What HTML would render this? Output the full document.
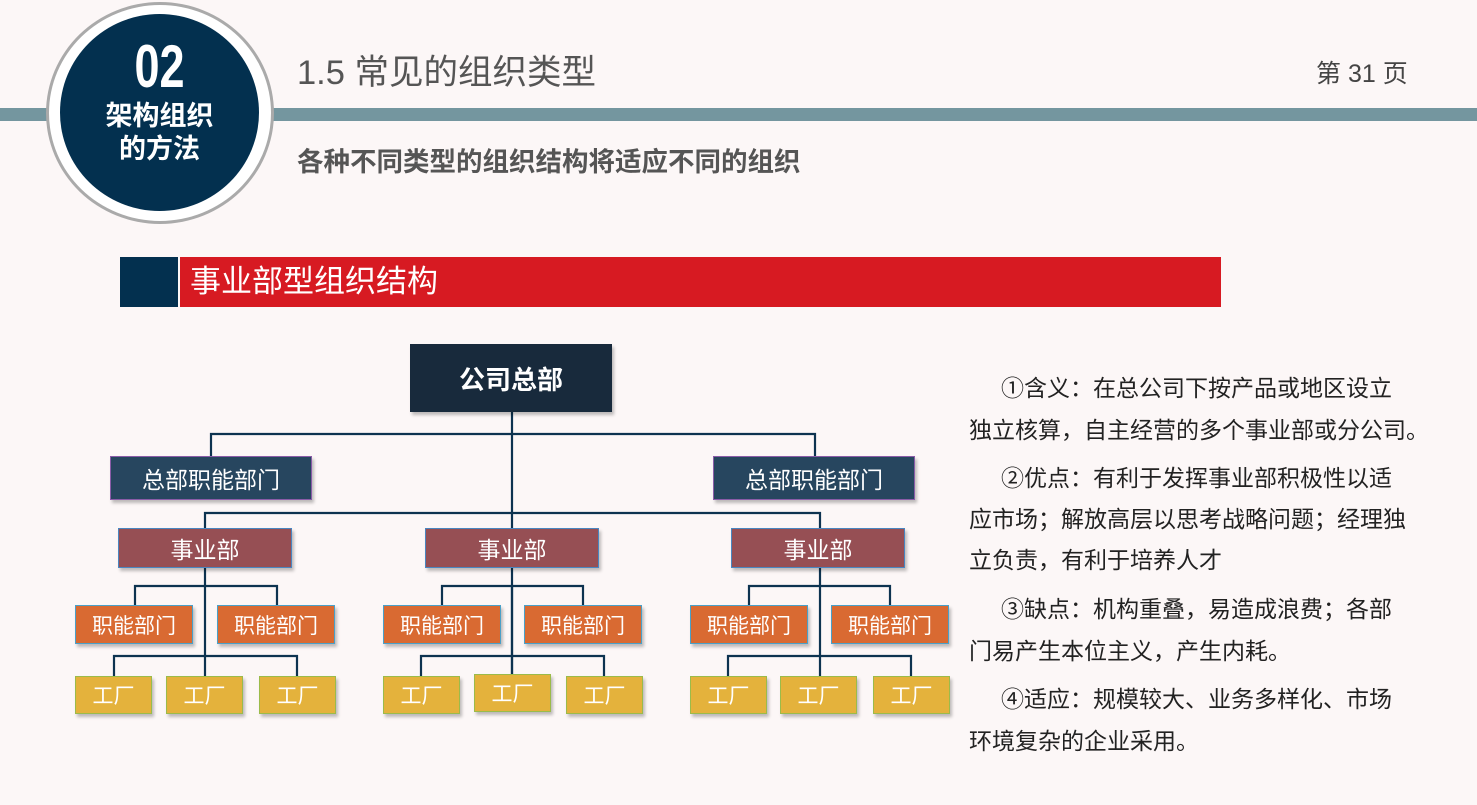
<!DOCTYPE html>
<html><head><meta charset="utf-8"><style>
*{margin:0;padding:0;box-sizing:border-box}
body{width:1477px;height:805px;background:#fcf7f7;position:relative;overflow:hidden;font-family:"Liberation Sans","Noto Sans CJK SC",sans-serif}
.a{position:absolute}
.b{position:absolute;color:#fff;display:flex;align-items:center;justify-content:center;white-space:nowrap;box-shadow:2px 3px 3px rgba(0,0,0,.25)}
.hq{background:#27465f;border:1.5px solid #8a5ca8;font-size:23px;width:202px;height:44px;top:456px}
.sy{background:#964f54;border:1.5px solid #4a86c0;font-size:23px;width:174px;height:40px;top:528px}
.zn{background:#d96a32;border:1.5px solid #4aa0c8;font-size:21px;width:118px;height:39px;top:605px}
.gc{background:#e4b23c;border:1.5px solid #9bbb4a;font-size:21px;width:77px;height:38px;top:676px}
.t{position:absolute;font-size:23px;color:#222;white-space:nowrap;line-height:30px}
</style></head><body>
<div class="a" style="left:0;top:108px;width:1477px;height:13px;background:#74969f"></div>
<div class="a" style="left:46px;top:2px;width:228px;height:222px;border-radius:50%;background:#fff;border:3px solid #aaa"></div>
<div class="a" style="left:60px;top:14px;width:199px;height:197px;border-radius:50%;background:#03304f"></div>
<div class="a" style="left:60px;top:36px;width:199px;text-align:center;color:#fff;font-weight:bold;font-size:60px;line-height:62px;transform:scaleX(.75)">02</div>
<div class="a" style="left:60px;top:100px;width:199px;text-align:center;color:#fff;font-weight:bold;font-size:27px;line-height:33px">架构组织<br>的方法</div>
<div class="a" style="left:297px;top:52px;font-size:34.5px;color:#555;line-height:42px">1.5 常见的组织类型</div>
<div class="a" style="left:1316px;top:59px;font-size:25px;color:#444;line-height:30px">第 31 页</div>
<div class="a" style="left:297px;top:146px;font-size:26.5px;color:#555;font-weight:bold;line-height:32px">各种不同类型的组织结构将适应不同的组织</div>
<div class="a" style="left:120px;top:257px;width:58px;height:50px;background:#03304f"></div>
<div class="a" style="left:180px;top:257px;width:1041px;height:50px;background:#d71a22;color:#fff;font-size:31px;line-height:50px;padding-left:10px">事业部型组织结构</div>

<svg class="a" style="left:0;top:0" width="1477" height="805">
<g stroke="#0d3350" stroke-width="2.2" fill="none">
<path d="M512 412V676M211 456V434H815V456M205 528V513H820V528"/>
<path d="M205 568V676M135 605V586H277V605M114 676V656H297V676"/>
<path d="M512 586V674M442 605V586H583V605M421 676V656H604V676"/>
<path d="M820 568V676M749 605V586H890V605M728 676V656H911V676"/>
</g></svg>

<div class="b" style="left:410px;top:344px;width:202px;height:68px;background:#182a3c;font-size:26px;font-weight:bold">公司总部</div>
<div class="b hq" style="left:110px">总部职能部门</div>
<div class="b hq" style="left:713px">总部职能部门</div>
<div class="b sy" style="left:118px">事业部</div>
<div class="b sy" style="left:425px">事业部</div>
<div class="b sy" style="left:731px">事业部</div>
<div class="b zn" style="left:75px">职能部门</div>
<div class="b zn" style="left:217px">职能部门</div>
<div class="b zn" style="left:383px">职能部门</div>
<div class="b zn" style="left:524px">职能部门</div>
<div class="b zn" style="left:690px">职能部门</div>
<div class="b zn" style="left:831px">职能部门</div>
<div class="b gc" style="left:75px">工厂</div>
<div class="b gc" style="left:166px">工厂</div>
<div class="b gc" style="left:259px">工厂</div>
<div class="b gc" style="left:383px">工厂</div>
<div class="b gc" style="left:474px;top:674px">工厂</div>
<div class="b gc" style="left:566px">工厂</div>
<div class="b gc" style="left:690px">工厂</div>
<div class="b gc" style="left:780px">工厂</div>
<div class="b gc" style="left:873px">工厂</div>

<div class="t" style="left:1001px;top:373px">①含义：在总公司下按产品或地区设立</div>
<div class="t" style="left:969px;top:415px">独立核算，自主经营的多个事业部或分公司。</div>
<div class="t" style="left:1001px;top:463px">②优点：有利于发挥事业部积极性以适</div>
<div class="t" style="left:969px;top:504px">应市场；解放高层以思考战略问题；经理独</div>
<div class="t" style="left:969px;top:545px">立负责，有利于培养人才</div>
<div class="t" style="left:1001px;top:594px">③缺点：机构重叠，易造成浪费；各部</div>
<div class="t" style="left:969px;top:636px">门易产生本位主义，产生内耗。</div>
<div class="t" style="left:1001px;top:684px">④适应：规模较大、业务多样化、市场</div>
<div class="t" style="left:969px;top:726px">环境复杂的企业采用。</div>
</body></html>
